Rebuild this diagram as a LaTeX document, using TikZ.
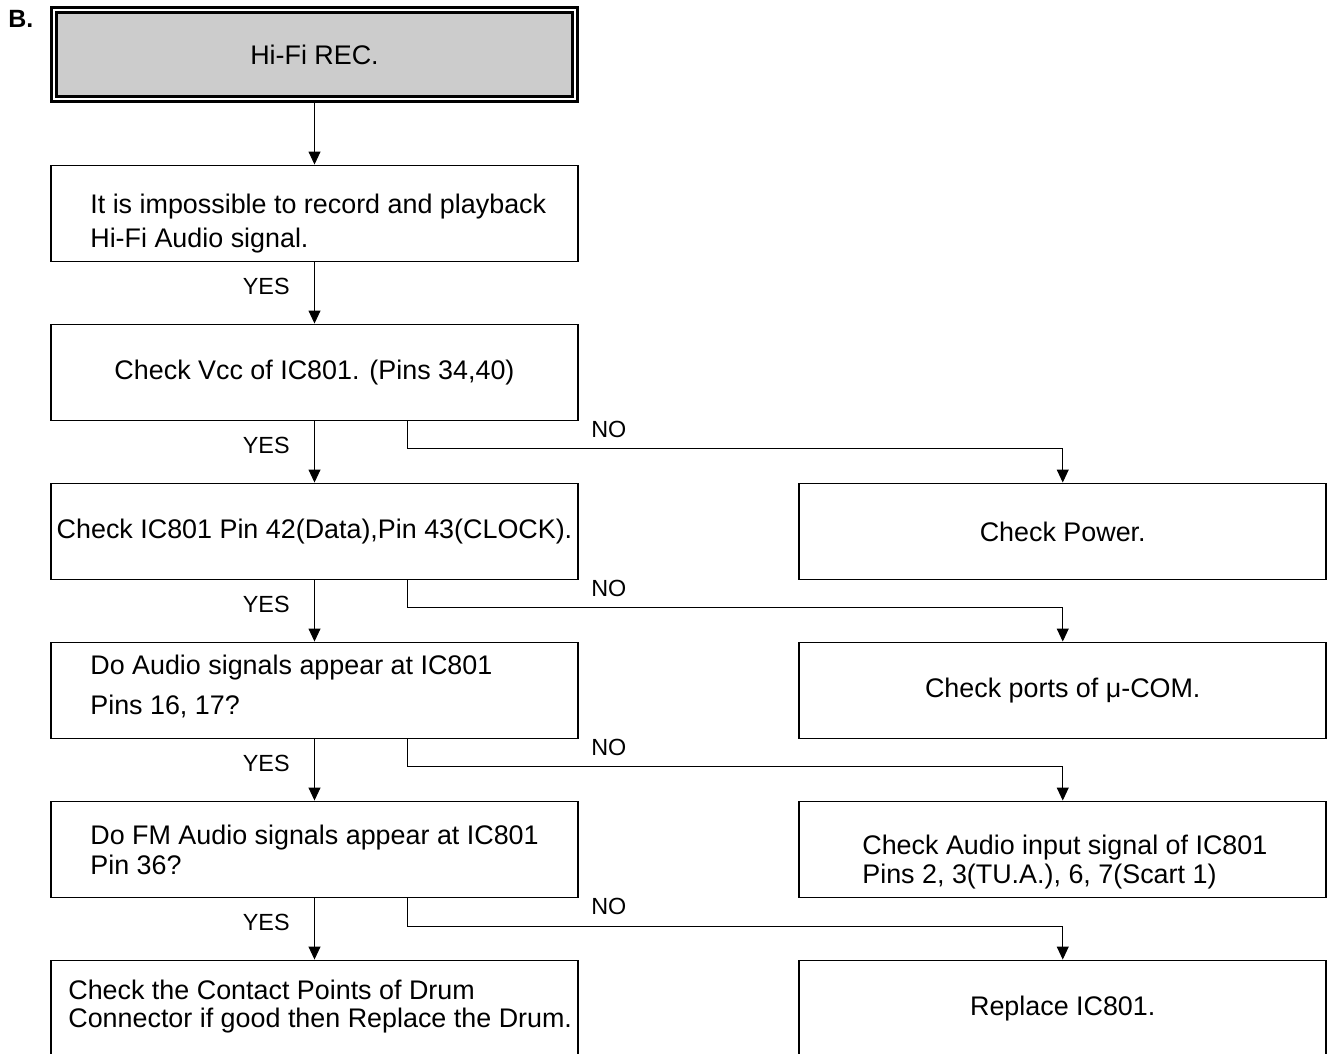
\documentclass[tikz,border=0pt]{standalone}
\usepackage{fontspec}
\setmainfont{Liberation Sans}
\usetikzlibrary{arrows.meta,calc}

\begin{document}
\begin{tikzpicture}[x=0.2mm, y=-0.2mm,
        box/.style={draw, line width=1.1pt, minimum width=105.4mm, minimum height=19.2mm, inner sep=0pt, font=\fontsize{15.3pt}{18pt}\selectfont},
        txt/.style={anchor=north west, inner sep=0pt, align=left},
        lbl/.style={inner sep=0pt, font=\fontsize{13.3pt}{16pt}\selectfont},
        link/.style={line width=0.55pt, ->},
        >={Triangle[length=7.4pt, width=6.8pt]}]
        \useasboundingbox (0,0) rectangle (1328,1053);
        \clip (0,0) rectangle (1328,1053);

        \node[anchor=north west, inner sep=0pt, font=\fontsize{14.2pt}{17pt}\selectfont\bfseries] (sec) at (8,10) {B.};

        \node[box, double, double distance=1.4pt, line width=1.5pt, fill=gray!40, minimum width=104.2mm, minimum height=17.8mm] (rec) at (314.5,54.5) {Hi-Fi REC.};
        \node[box] (none) at (314.5,213.5) {};
        \node[box] (vcc) at (314.5,372.5) {Check Vcc of IC801. (Pins 34,40)};
        \node[box] (pins) at (314.5,531.5) {Check IC801 Pin 42(Data),Pin 43(CLOCK).};
        \node[box] (aud) at (314.5,690.5) {};
        \node[box] (fm) at (314.5,849.5) {};
        \node[box] (drum) at (314.5,1008.5) {};

        \node[box] (pwr) at (1062.75,531.5) {Check Power.};
        \node[box] (com) at (1062.75,690.5) {Check ports of μ-COM.};
        \node[box] (inp) at (1062.75,849.5) {};
        \node[box] (rep) at (1062.75,1008.5) {Replace IC801.};

        % texts of the two-line boxes
        \node[txt, font=\fontsize{15.3pt}{19.3pt}\selectfont] (tnone) at (90,194) {It is impossible to record and playback\\Hi-Fi Audio signal.};
        \node[txt, font=\fontsize{15.3pt}{22.7pt}\selectfont] (taud) at (90,655) {Do Audio signals appear at IC801\\Pins 16, 17?};
        \node[txt, font=\fontsize{15.3pt}{17pt}\selectfont] (tfm) at (90,825) {Do FM Audio signals appear at IC801\\Pin 36?};
        \node[txt, font=\fontsize{15.3pt}{16.4pt}\selectfont] (tinp) at (862,835) {Check Audio input signal of IC801\\Pins 2, 3(TU.A.), 6, 7(Scart 1)};
        \node[txt, font=\fontsize{15.3pt}{15.9pt}\selectfont] (tdrum) at (68,980) {Check the Contact Points of Drum\\Connector if good then Replace the Drum.};

        % YES branches
        \draw[link] (rec) -- (none);
        \draw[link] (none) -- node[lbl, pos=.4, left=13.9pt] (yes1) {YES} (vcc);
        \draw[link] (vcc) -- node[lbl, pos=.4, left=13.9pt] (yes2) {YES} (pins);
        \draw[link] (pins) -- node[lbl, pos=.4, left=13.9pt] (yes3) {YES} (aud);
        \draw[link] (aud) -- node[lbl, pos=.4, left=13.9pt] (yes4) {YES} (fm);
        \draw[link] (fm) -- node[lbl, pos=.4, left=13.9pt] (yes5) {YES} (drum);

        % NO branches
        \draw[link] ($(vcc.south)+(93,0)$) -- ++(0,27.5) -| (pwr.north);
        \draw[link] ($(pins.south)+(93,0)$) -- ++(0,27.5) -| (com.north);
        \draw[link] ($(aud.south)+(93,0)$) -- ++(0,27.5) -| (inp.north);
        \draw[link] ($(fm.south)+(93,0)$) -- ++(0,27.5) -| (rep.north);
        \node[lbl, anchor=west] (no1) at ($(vcc.south east)+(12,8)$) {NO};
        \node[lbl, anchor=west] (no2) at ($(pins.south east)+(12,8)$) {NO};
        \node[lbl, anchor=west] (no3) at ($(aud.south east)+(12,8)$) {NO};
        \node[lbl, anchor=west] (no4) at ($(fm.south east)+(12,8)$) {NO};

    \end{tikzpicture}
\end{document}
